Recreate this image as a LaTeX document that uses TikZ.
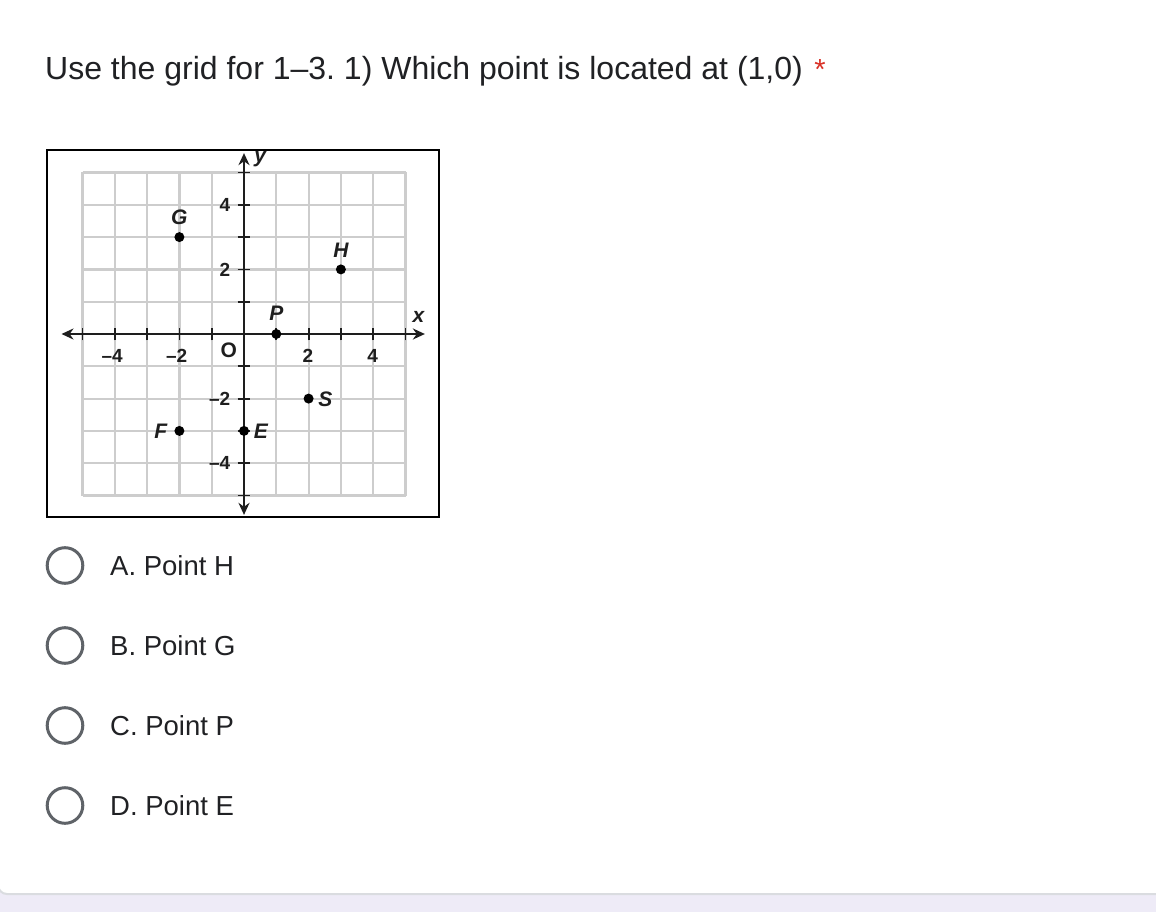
\documentclass[tikz,border=0pt]{standalone}
\usepackage{fontspec}
\setmainfont{Liberation Sans}
\setsansfont{Liberation Sans}
\usetikzlibrary{arrows.meta, positioning}
\definecolor{formtext}{RGB}{32,33,36}
\definecolor{radiogray}{RGB}{95,99,104}
\definecolor{gridgray}{RGB}{205,205,205}
\definecolor{axisgray}{RGB}{30,30,30}
\definecolor{starred}{RGB}{217,48,37}
\definecolor{pagelav}{RGB}{238,235,247}
\definecolor{cardline}{RGB}{218,220,224}
\frenchspacing

\begin{document}
\begin{tikzpicture}[x=1pt, y=-1pt]
	\tikzstyle{question} = [anchor=base west, inner sep=0pt, text=formtext, 
	font=\fontsize{32}{36}\selectfont]
	\tikzstyle{option} = [anchor=base west, inner sep=0pt, text=formtext, 
	font=\fontsize{27.5}{32}\selectfont]
	\tikzstyle{radio} = [circle, draw=radiogray, line width=3pt, 
	minimum size=35.6pt, inner sep=0pt]
	\tikzstyle{gridline} = [draw=gridgray, line width=2.2pt]
	\tikzstyle{axis} = [draw=axisgray, line width=2.6pt, 
	{Stealth[length=12pt,width=11pt]}-{Stealth[length=12pt,width=11pt]}]
	\tikzstyle{tick} = [draw=axisgray, line width=1.8pt]
	\tikzstyle{num} = [inner sep=0pt, text=axisgray, 
	font=\sffamily\bfseries\fontsize{19}{22}\selectfont]
	\tikzstyle{dot} = [circle, fill=black, minimum size=10pt, inner sep=0pt]
	\tikzstyle{letter} = [inner sep=0pt, text=axisgray, 
	font=\sffamily\bfseries\itshape\fontsize{21}{24}\selectfont]
	\useasboundingbox (0,0) rectangle (1156,912);
	% page and card
	\fill[pagelav] (0,0) rectangle (1156,912);
	\filldraw[fill=white, draw=cardline, line width=2pt, rounded corners=9pt] 
	(-2,-20) rectangle (1170,894);
	% question
	\node (title) [question] at (45,80) {Use the grid for 1–3. 1) Which point is located at (1,0)};
	\node (star) [right=11pt of title.base east, anchor=base west, inner sep=0pt, 
	text=starred, font=\fontsize{29}{34}\selectfont] {*};
	% picture frame
	\node (frame) [draw=black, line width=2pt, minimum width=392pt, 
	minimum height=367pt, inner sep=0pt, anchor=north west] at (46,149) {};
	% coordinate grid
	\begin{scope}[shift={(244pt,-334pt)}, x=32.3pt, y=32.3pt]
		\foreach \i in {-5,...,5} {
			\draw[gridline] (\i,-5) -- (\i,5);
			\draw[gridline] (-5,\i) -- (5,\i);
		}
		\coordinate (xleft) at (-5.65,0);
		\coordinate (xright) at (5.6,0);
		\coordinate (ybottom) at (0,-5.6);
		\coordinate (ytop) at (0,5.6);
		\foreach \i in {-5,...,-1,1,2,...,5} {
			\draw[tick] (\i,-0.2) -- (\i,0.2);
			\draw[tick] (-0.2,\i) -- (0.2,\i);
		}
		\draw[axis] (xleft) -- (xright);
		\draw[axis] (ybottom) -- (ytop);
		\node (xlabel) [letter] at (5.4,0.52) {x};
		\node (ylabel) [letter] at (0.5,5.42) {y};
		% axis numbers
		\node (xm4) [num, anchor=east] at (-3.75,-0.68) {–4};
		\node (xm2) [num, anchor=east] at (-1.75,-0.68) {–2};
		\node (origin) [letter, font=\sffamily\bfseries\fontsize{21}{24}\selectfont] at (-0.47,-0.5) {O};
		\node (xp2) [num] at (1.98,-0.68) {2};
		\node (xp4) [num] at (3.98,-0.68) {4};
		\node (yp4) [num, anchor=east] at (-0.42,4) {4};
		\node (yp2) [num, anchor=east] at (-0.42,2) {2};
		\node (ym2) [num, anchor=east] at (-0.42,-2) {–2};
		\node (ym4) [num, anchor=east] at (-0.42,-4) {–4};
		% points
		\node (G) [dot] at (-2,3) {};
		\node (H) [dot] at (3,2) {};
		\node (P) [dot] at (1,0) {};
		\node (S) [dot] at (2,-2) {};
		\node (F) [dot] at (-2,-3) {};
		\node (E) [dot] at (0,-3) {};
		\node (Glabel) [letter] at (-2,3.62) {G};
		\node (Hlabel) [letter] at (3,2.6) {H};
		\node (Plabel) [letter] at (1,0.65) {P};
		\node (Slabel) [letter] at (2.52,-2.02) {S};
		\node (Flabel) [letter] at (-2.58,-3) {F};
		\node (Elabel) [letter] at (0.52,-3) {E};
	\end{scope}
	% answer choices
	\node (radioA) [radio] at (65,565.5) {};
	\node (radioB) [radio] at (65,645.5) {};
	\node (radioC) [radio] at (65,725.5) {};
	\node (radioD) [radio] at (65,805.5) {};
	\node (optA) [option] at (110,575) {A. Point H};
	\node (optB) [option] at (110,655) {B. Point G};
	\node (optC) [option] at (110,735) {C. Point P};
	\node (optD) [option] at (110,815) {D. Point E};
\end{tikzpicture}
\end{document}
